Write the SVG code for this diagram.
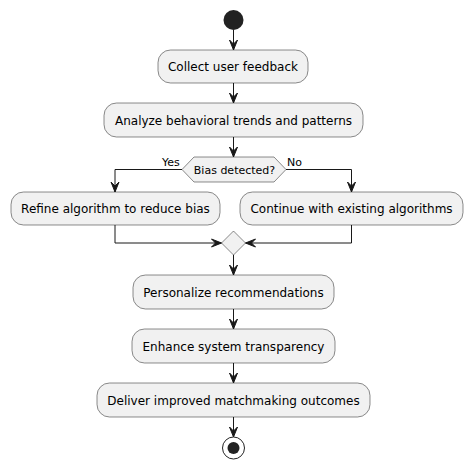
<svg xmlns="http://www.w3.org/2000/svg" width="472" height="469" viewBox="0 0 472 469">
<style>
.box{fill:#F1F1F1;stroke:#181818;stroke-width:0.5}
.t{font-family:"DejaVu Sans",sans-serif;font-size:12px;fill:#000;text-anchor:middle}
.d{font-family:"DejaVu Sans",sans-serif;font-size:11px;fill:#000;text-anchor:middle}
.s{font-family:"DejaVu Sans",sans-serif;font-size:11px;fill:#000}
.c{fill:none;stroke:#181818;stroke-width:1}
.ah{fill:#181818;stroke:#181818;stroke-width:1}
</style>
<defs>
<polygon id="ad" class="ah" points="-4,-10 0,0 4,-10 0,-6"/>
<polygon id="ar" class="ah" points="-10,-4 0,0 -10,4 -6,0"/>
<polygon id="al" class="ah" points="10,-4 0,0 10,4 6,0"/>
</defs>
<rect width="472" height="469" fill="#FFFFFF"/>
<g id="connectors">
<line class="c" x1="233.5" y1="30" x2="233.5" y2="50"/><use href="#ad" x="233.5" y="50"/>
<line class="c" x1="233.5" y1="83" x2="233.5" y2="103"/><use href="#ad" x="233.5" y="103"/>
<line class="c" x1="233.5" y1="137" x2="233.5" y2="157"/><use href="#ad" x="233.5" y="157"/>
<polyline class="c" points="182,169.5 115,169.5 115,192"/><use href="#ad" x="115" y="192"/>
<polyline class="c" points="286,169.5 351.5,169.5 351.5,192"/><use href="#ad" x="351.5" y="192"/>
<polyline class="c" points="115,225 115,243 221.5,243"/><use href="#ar" x="221.5" y="243"/>
<polyline class="c" points="351.5,225 351.5,243 245.5,243"/><use href="#al" x="245.5" y="243"/>
<line class="c" x1="233.5" y1="255" x2="233.5" y2="275"/><use href="#ad" x="233.5" y="275"/>
<line class="c" x1="233.5" y1="309" x2="233.5" y2="329"/><use href="#ad" x="233.5" y="329"/>
<line class="c" x1="233.5" y1="363" x2="233.5" y2="383"/><use href="#ad" x="233.5" y="383"/>
<line class="c" x1="233.5" y1="417" x2="233.5" y2="437"/><use href="#ad" x="233.5" y="437"/>
<text class="s" x="162" y="166">Yes</text>
<text class="s" x="287" y="166">No</text>
</g>
<g id="start"><circle cx="233.5" cy="20" r="10" fill="#222222"/></g>
<g id="n1"><rect class="box" x="158" y="50" width="150" height="33" rx="12.5"/><text class="t" x="233" y="71">Collect user feedback</text></g>
<g id="n2"><rect class="box" x="104" y="103" width="259" height="34" rx="12.5"/><text class="t" x="233.5" y="124.5">Analyze behavioral trends and patterns</text></g>
<g id="d1"><polygon class="box" points="182,169.5 194,157 274,157 286,169.5 274,182 194,182"/><text class="d" x="234.5" y="174">Bias detected?</text></g>
<g id="n3"><rect class="box" x="11" y="192" width="209" height="33" rx="12.5"/><text class="t" x="115.5" y="213">Refine algorithm to reduce bias</text></g>
<g id="n4"><rect class="box" x="240" y="192" width="223" height="33" rx="12.5"/><text class="t" x="351.5" y="213">Continue with existing algorithms</text></g>
<g id="m1"><polygon class="box" points="233.5,231 245.5,243 233.5,255 221.5,243"/></g>
<g id="n5"><rect class="box" x="133" y="275" width="201" height="34" rx="12.5"/><text class="t" x="233.5" y="296.5">Personalize recommendations</text></g>
<g id="n6"><rect class="box" x="132" y="329" width="203" height="34" rx="12.5"/><text class="t" x="233.5" y="350.5">Enhance system transparency</text></g>
<g id="n7"><rect class="box" x="97" y="383" width="273" height="34" rx="12.5"/><text class="t" x="233.5" y="404.5">Deliver improved matchmaking outcomes</text></g>
<g id="end"><circle cx="233.5" cy="448" r="11" fill="none" stroke="#222222" stroke-width="1"/><circle cx="233.5" cy="448" r="6" fill="#222222"/></g>
</svg>
